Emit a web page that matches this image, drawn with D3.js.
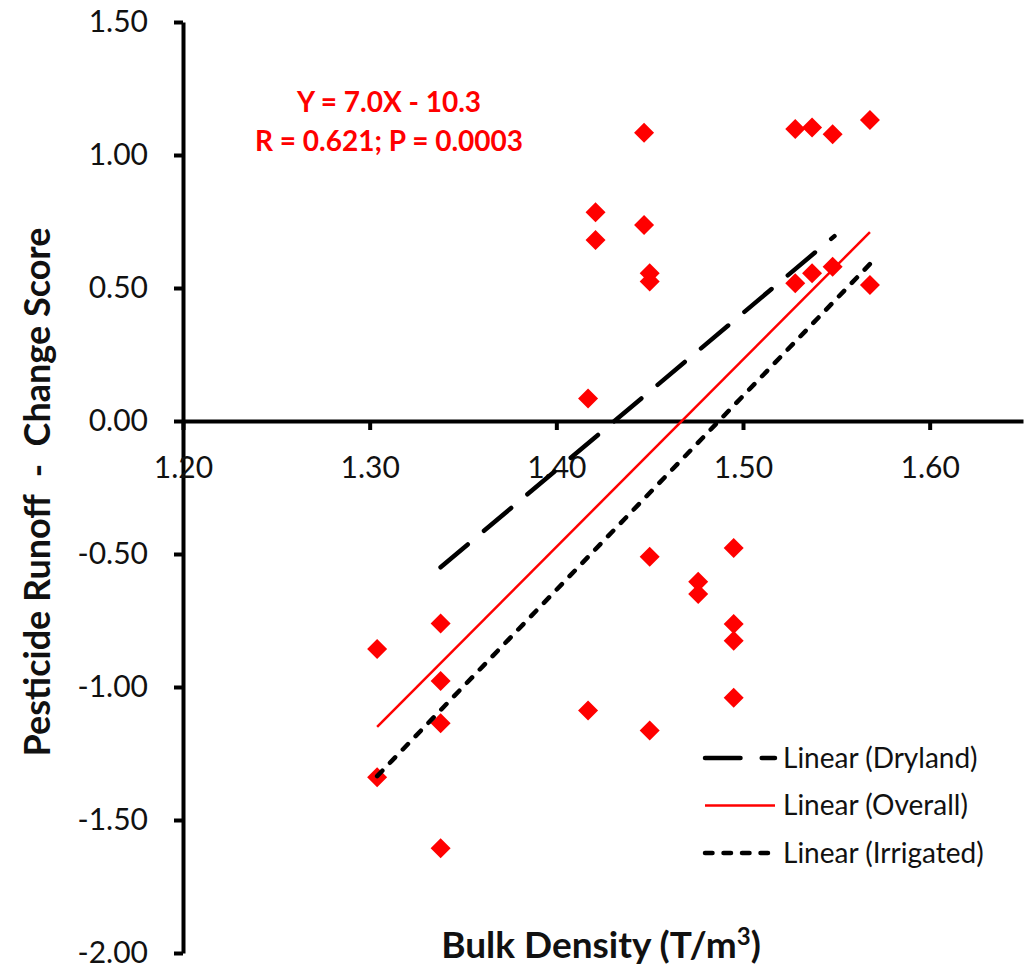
<!DOCTYPE html>
<html>
<head>
<meta charset="utf-8">
<script src="https://cdn.jsdelivr.net/npm/d3@7"></script>
<style>
  body { margin: 0; background: #fff; }
  text { font-family: Lato, "Open Sans", sans-serif; }
</style>
</head>
<body>
<div id="d3-container"></div>
<script>
// points (bulk density vs change score)
const bulkDensity = [
  1.304, 1.304, 1.338, 1.338, 1.338, 1.338,
  1.417, 1.417, 1.421, 1.421,
  1.447, 1.447, 1.450, 1.450, 1.450, 1.450,
  1.476, 1.476, 1.495, 1.495, 1.495, 1.495,
  1.528, 1.537, 1.548, 1.568, 1.528, 1.537, 1.548, 1.568
];
const changeScore = [
  -0.857, -1.339, -0.761, -0.977, -1.136, -1.606,
  0.085, -1.088, 0.785, 0.680,
  1.084, 0.737, 0.555, 0.524, -0.510, -1.164,
  -0.604, -0.650, -0.477, -0.763, -0.826, -1.040,
  1.098, 1.103, 1.078, 1.132, 0.518, 0.555, 0.580, 0.511
];

// trend lines: start and end [x, y]
const trendNames = ["Linear (Dryland)", "Linear (Overall)", "Linear (Irrigated)"];
const dryland = [[1.338, -0.55], [1.549, 0.695]];
const overall = [[1.304, -1.15], [1.568, 0.71]];
const irrigated = [[1.304, -1.335], [1.568, 0.59]];

const xTicks = [1.20, 1.30, 1.40, 1.50, 1.60];
const yTicks = [1.50, 1.00, 0.50, 0.00, -0.50, -1.00, -1.50, -2.00];

const equationText = ["Y = 7.0X - 10.3", "R = 0.621; P = 0.0003"];

const width = 1026,
    height = 973,
    margin = { top: 22, bottom: 20, left: 183, right: 3 };

const svg = d3.select("#d3-container")
    .append("svg")
    .attr("width", width)
    .attr("height", height);

const x = d3.scaleLinear().domain([1.2, 1.65]).range([margin.left, width - margin.right]);
const y = d3.scaleLinear().domain([-2, 1.5]).range([height - margin.bottom, margin.top]);

// y axis
const yAxis = svg.append("g")
    .attr("transform", `translate(${x(1.2)},0)`)
    .call(d3.axisLeft(y).tickValues(yTicks).tickFormat(d => d.toFixed(2))
        .tickSize(9).tickSizeOuter(0).tickPadding(26));

// x axis crossing at zero
const xAxis = svg.append("g")
    .attr("transform", `translate(0,${y(0)})`)
    .call(d3.axisBottom(x).tickValues(xTicks).tickFormat(d => d.toFixed(2))
        .tickSize(9).tickSizeOuter(0).tickPadding(27));

[xAxis, yAxis].forEach(g => {
    g.select(".domain").attr("stroke", "#000").attr("stroke-width", 4);
    g.selectAll(".tick line").attr("stroke", "#000").attr("stroke-width", 4);
    g.selectAll(".tick text")
        .attr("fill", "#111")
        .style("font-size", "30px")
        .style("font-family", "Lato, sans-serif");
});

// markers
const diamond = "M0,-10L10,0L0,10L-10,0Z";
svg.selectAll(".pt")
    .data(bulkDensity.map((d, i) => [d, changeScore[i]]))
    .join("path")
    .attr("class", "pt")
    .attr("d", diamond)
    .attr("transform", d => `translate(${x(d[0])},${y(d[1])})`)
    .attr("fill", "#ff0000");

// trend lines
const line = d3.line().x(d => x(d[0])).y(d => y(d[1]));
const trendStyles = [
    { data: dryland, color: "#000", w: 4.5, dash: "35.5,21.2" },
    { data: overall, color: "#ff0000", w: 2.5, dash: null },
    { data: irrigated, color: "#000", w: 4.5, dash: "7.5,11" }
];
trendStyles.forEach(t => {
    svg.append("path")
        .attr("d", line(t.data))
        .attr("fill", "none")
        .attr("stroke", t.color)
        .attr("stroke-width", t.w)
        .attr("stroke-linecap", t.dash ? "round" : "butt")
        .attr("stroke-dasharray", t.dash);
});

// legend
const legend = svg.append("g").attr("transform", "translate(705,758)");
trendStyles.forEach((t, i) => {
    legend.append("line")
        .attr("x1", 0).attr("x2", 70)
        .attr("y1", i * 47.5).attr("y2", i * 47.5)
        .attr("stroke", t.color)
        .attr("stroke-width", t.w)
        .attr("stroke-linecap", t.dash ? "round" : "butt")
        .attr("stroke-dasharray", t.dash);
    legend.append("text")
        .attr("x", 78)
        .attr("y", i * 47.5)
        .attr("dy", "0.35em")
        .style("font-size", "28px")
        .attr("fill", "#111")
        .text(trendNames[i]);
});

// equation
svg.selectAll(".eq")
    .data(equationText)
    .join("text")
    .attr("class", "eq")
    .attr("x", 389)
    .attr("y", (d, i) => 112 + i * 39)
    .attr("text-anchor", "middle")
    .attr("fill", "#ff0000")
    .style("font-size", "28px")
    .style("font-weight", "bold")
    .text(d => d);

// axis titles
svg.append("text")
    .attr("transform", "translate(50,492) rotate(-90)")
    .attr("text-anchor", "middle")
    .style("font-size", "36px")
    .style("font-weight", "bold")
    .attr("fill", "#111")
    .style("white-space", "pre")
    .text("Pesticide Runoff  -  Change Score");

const xt = svg.append("text")
    .attr("x", 601)
    .attr("y", 958)
    .attr("text-anchor", "middle")
    .style("font-size", "37px")
    .style("font-weight", "bold")
    .attr("fill", "#111")
    .text("Bulk Density (T/m");
xt.append("tspan").text("3").attr("dy", -13).style("font-size", "24px");
xt.append("tspan").text(")").attr("dy", 13);
</script>
</body>
</html>
